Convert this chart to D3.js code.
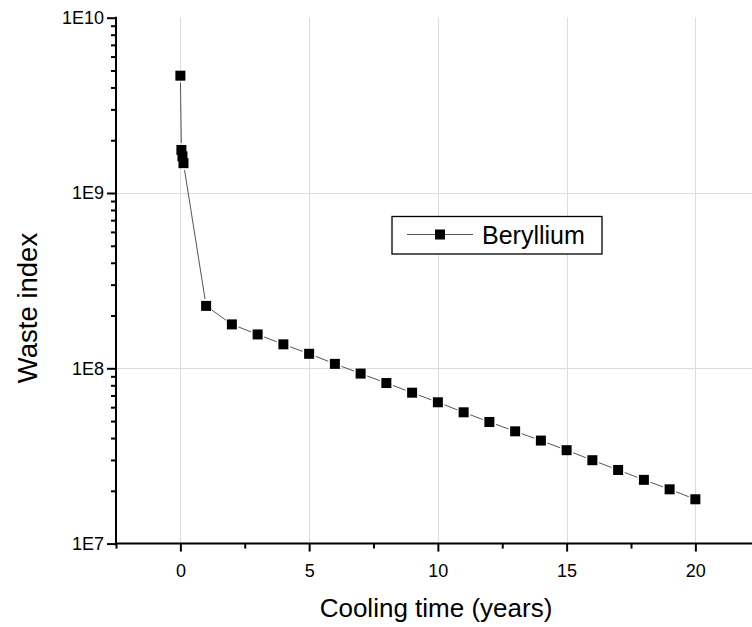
<!DOCTYPE html>
<html><head><meta charset="utf-8">
<script src="https://cdn.jsdelivr.net/npm/d3@7"></script>
<style>body{margin:0;background:#fff}svg{display:block}text{font-family:"Liberation Sans",Arial,sans-serif}</style>
</head><body>
<svg id="c" width="752" height="627"></svg>
<script>
const times = [0, 0.04, 0.08, 0.12, 1, 2, 3, 4, 5, 6, 7, 8, 9, 10, 11, 12, 13, 14, 15, 16, 17, 18, 19, 20];
const values = [4.67e9, 1.76e9, 1.62e9, 1.48e9, 2.27e8, 1.78e8, 1.56e8, 1.37e8, 1.21e8, 1.06e8, 9.33e7, 8.24e7, 7.26e7, 6.40e7, 5.61e7, 4.94e7, 4.37e7, 3.87e7, 3.41e7, 2.99e7, 2.63e7, 2.31e7, 2.04e7, 1.79e7];
const xMajorTicks = [0, 5, 10, 15, 20];
const xMinorTicks = [-2.5, 2.5, 7.5, 12.5, 17.5, 22.5];
const yMajorTicks = [1e7, 1e8, 1e9, 1e10];
const yTickLabels = ["1E7", "1E8", "1E9", "1E10"];
const seriesName = "Beryllium";
const xTitle = "Cooling time (years)";
const yTitle = "Waste index";

const svg = d3.select("#c");
const x = d3.scaleLinear().domain([-2.5, 22.5]).range([116, 759.75]);
const y = d3.scaleLog().domain([1e7, 1e10]).range([543.6, 17.7]);

const yMinor = [];
for (let e = 7; e < 10; e++) for (let m = 2; m <= 9; m++) yMinor.push(m * Math.pow(10, e));

// grid
const grid = svg.append("g").attr("stroke", "#dcdcdc").attr("stroke-width", 1);
grid.selectAll("line.gx").data(xMajorTicks).join("line")
  .attr("x1", d => Math.round(x(d)) + 0.5).attr("x2", d => Math.round(x(d)) + 0.5)
  .attr("y1", y(1e10)).attr("y2", y(1e7));
grid.selectAll("line.gy").data([1e8, 1e9]).join("line")
  .attr("y1", d => Math.round(y(d)) + 0.5).attr("y2", d => Math.round(y(d)) + 0.5)
  .attr("x1", x(-2.5)).attr("x2", 752);

// axes
const xAxis = d3.axisBottom(x).tickValues(xMajorTicks).tickSize(8).tickFormat(d3.format("d"));
const gx = svg.append("g").attr("transform", `translate(0,${y(1e7)})`).call(xAxis)
  .attr("font-size", 18).attr("font-family", "Liberation Sans, Arial, sans-serif");
gx.select(".domain").remove();
gx.selectAll(".tick line").attr("stroke", "#000").attr("stroke-width", 2);
gx.selectAll(".tick text").style("font-size", "18px").attr("fill", "#000").attr("y", 17).attr("dy", "0.92em");
const xAxisMinor = d3.axisBottom(x).tickValues(xMinorTicks).tickSize(5).tickFormat("");
const gxm = svg.append("g").attr("transform", `translate(0,${y(1e7)})`).call(xAxisMinor);
gxm.select(".domain").remove();
gxm.selectAll(".tick line").attr("stroke", "#000").attr("stroke-width", 2);

const yAxis = d3.axisLeft(y).tickValues(yMajorTicks).tickSize(9).tickFormat((d, i) => yTickLabels[i]);
const gy = svg.append("g").attr("transform", `translate(${x(-2.5)},0)`).call(yAxis)
  .attr("font-size", 18).attr("font-family", "Liberation Sans, Arial, sans-serif");
gy.select(".domain").remove();
gy.selectAll(".tick line").attr("stroke", "#000").attr("stroke-width", 2);
gy.selectAll(".tick text").style("font-size", "18px").attr("fill", "#000").attr("x", -12);
const yAxisMinor = d3.axisLeft(y).tickValues(yMinor).tickSize(5).tickFormat("");
const gym = svg.append("g").attr("transform", `translate(${x(-2.5)},0)`).call(yAxisMinor);
gym.select(".domain").remove();
gym.selectAll(".tick line").attr("stroke", "#000").attr("stroke-width", 2);

// axis lines
svg.append("line").attr("x1", x(-2.5)).attr("x2", x(-2.5)).attr("y1", y(1e10) - 1).attr("y2", y(1e7) + 1)
  .attr("stroke", "#000").attr("stroke-width", 2);
svg.append("line").attr("x1", x(-2.5) - 1).attr("x2", 752).attr("y1", y(1e7)).attr("y2", y(1e7))
  .attr("stroke", "#000").attr("stroke-width", 2);

// series line with gaps around symbols
const pts = times.map((t, i) => [x(t), y(values[i])]);
const gap = 7;
const segs = [];
for (let i = 0; i < pts.length - 1; i++) {
  const [x1, y1] = pts[i], [x2, y2] = pts[i + 1];
  const L = Math.hypot(x2 - x1, y2 - y1);
  if (L > 2 * gap) {
    const ux = (x2 - x1) / L, uy = (y2 - y1) / L;
    segs.push([x1 + ux * gap, y1 + uy * gap, x2 - ux * gap, y2 - uy * gap]);
  }
}
svg.append("g").selectAll("line").data(segs).join("line")
  .attr("x1", d => d[0]).attr("y1", d => d[1]).attr("x2", d => d[2]).attr("y2", d => d[3])
  .attr("stroke", "#555").attr("stroke-width", 1);

const ms = 10;
svg.append("g").selectAll("rect").data(times).join("rect")
  .attr("x", (d) => x(d) - ms / 2).attr("y", (d, i) => y(values[i]) - ms / 2)
  .attr("width", ms).attr("height", ms).attr("fill", "#000");

// legend
const lg = svg.append("g");
lg.append("rect").attr("x", 392).attr("y", 216.5).attr("width", 210).attr("height", 37.5)
  .attr("fill", "#fff").attr("stroke", "#000").attr("stroke-width", 1.3);
lg.append("line").attr("x1", 407).attr("x2", 473).attr("y1", 234.5).attr("y2", 234.5).attr("stroke", "#555").attr("stroke-width", 1);
lg.append("rect").attr("x", 435).attr("y", 229.5).attr("width", ms).attr("height", ms).attr("fill", "#000");
lg.append("text").attr("x", 482).attr("y", 243.5).attr("font-size", 25).attr("fill", "#000").text(seriesName);

// titles
svg.append("text").attr("x", 436).attr("y", 617).attr("text-anchor", "middle").attr("font-size", 26).attr("fill", "#000").text(xTitle);
svg.append("text").attr("transform", "translate(37,308) rotate(-90)").attr("text-anchor", "middle").attr("font-size", 27.5).attr("fill", "#000").text(yTitle);
</script>
</body></html>
